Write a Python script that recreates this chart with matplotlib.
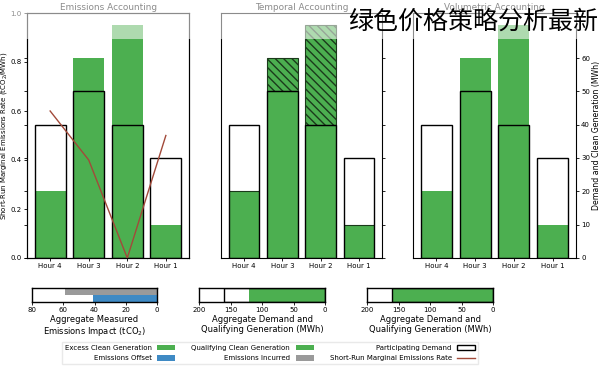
import matplotlib.pyplot as plt
from matplotlib.patches import Patch, Rectangle
from matplotlib.lines import Line2D

# data (Hour 1 .. Hour 4); the picture is a left-right mirror of the chart
hours = ["Hour 1", "Hour 2", "Hour 3", "Hour 4"]
demand = [30, 40, 50, 40]
clean_gen = [10, 70, 60, 20]
emission_rate = [0.5, 0.0, 0.4, 0.6]
mwh_ticks = [0, 10, 20, 30, 40, 50, 60]
rate_ticks = [0.0, 0.2, 0.4, 0.6, 0.8, 1.0]
agg_mwh_ticks = [0, 50, 100, 150, 200]
agg_em_ticks = [0, 20, 40, 60, 80]

qualifying = [min(d, g) for d, g in zip(demand, clean_gen)]
excess = [g - q for g, q in zip(clean_gen, qualifying)]
total_demand = sum(demand)
total_gen = sum(clean_gen)
total_qual = sum(qualifying)
em_incurred = sum(d * r for d, r in zip(demand, emission_rate))
em_offset = sum(g * r for g, r in zip(clean_gen, emission_rate))

GREEN = "#4caf50"
GRAY = "#9a9a9a"
BLUE = "#3f8ac4"
LINE = "#a24a3a"
plt.rcParams["hatch.color"] = "#1b3a1b"
plt.rcParams["hatch.linewidth"] = 1.0
plt.rcParams["axes.linewidth"] = 0.8

W, H = 600, 369
fig = plt.figure(figsize=(6, 3.69), dpi=100)


def px(x0, y0, x1, y1):
    return [x0 / W, (H - y1) / H, (x1 - x0) / W, (y1 - y0) / H]


tick_fs = 5.0
lab_fs = 6.0
x = range(len(hours))

ax_em = fig.add_axes(px(27, 13, 189, 258))
ax_tm = fig.add_axes(px(221, 13, 382, 258))
ax_vo = fig.add_axes(px(413, 13, 576, 258))

for ax, title in [(ax_em, "Emissions Accounting"), (ax_tm, "Temporal Accounting"),
                  (ax_vo, "Volumetric Accounting")]:
    if ax is ax_tm:
        ax.bar(x, qualifying, width=0.8, color=GREEN, zorder=2)
        ax.bar(x, excess, width=0.8, bottom=qualifying, facecolor=GREEN,
               edgecolor="#1b3a1b", hatch="\\\\\\\\", linewidth=0.8, zorder=2)
    else:
        ax.bar(x, clean_gen, width=0.8, color=GREEN, zorder=2)
    ax.bar(x, demand, width=0.8, facecolor="none", edgecolor="black",
           linewidth=1.0, zorder=3)
    ax.set_xlim(3.6, -0.6)
    ax.set_ylim(0, 73.5)
    ax.set_xticks(list(x))
    ax.set_xticklabels(hours, fontsize=tick_fs)
    ax.yaxis.tick_right()
    ax.set_yticks(mwh_ticks)
    ax.tick_params(length=2.5, width=0.6, pad=1.2, labelsize=tick_fs)
    ax.set_title(title, fontsize=6.4, pad=2)
    if ax is not ax_vo:
        ax.tick_params(axis="y", labelright=False)

ax_vo.yaxis.set_label_position("right")
ax_vo.set_ylabel("Demand and Clean Generation (MWh)", fontsize=5.6, labelpad=1)

# emissions rate on twin axis, mirrored to the left
ax_r = ax_em.twinx()
ax_r.plot(list(x), emission_rate, color=LINE, linewidth=1.0, zorder=4)
ax_r.set_ylim(0, 1.0)
ax_r.set_xlim(3.6, -0.6)
ax_r.yaxis.tick_left()
ax_r.yaxis.set_label_position("left")
ax_r.set_yticks(rate_ticks)
ax_r.set_yticklabels([f"{t:.1f}" for t in rate_ticks])
ax_r.tick_params(length=2.5, width=0.6, pad=1.2, labelsize=tick_fs)
ax_r.set_ylabel("Short-Run Marginal Emissions Rate (tCO$_2$/MWh)", fontsize=5.0,
                labelpad=1)

# aggregate bars
ag_em = fig.add_axes(px(32, 288, 157, 302))
ag_tm = fig.add_axes(px(199, 288, 325, 302))
ag_vo = fig.add_axes(px(367, 288, 493, 302))

ag_em.barh(1, em_incurred, height=1.0, color=GRAY)
ag_em.barh(0, em_offset, height=1.0, color=BLUE)
ag_em.set_ylim(-0.5, 1.5)
ag_em.set_xlim(80, 0)
ag_em.set_xticks(agg_em_ticks)
ag_em.set_xlabel("Aggregate Measured\nEmissions Impact (tCO$_2$)", fontsize=lab_fs,
                 labelpad=1.5, linespacing=1.1)

ag_tm.barh(0, total_qual, height=1.0, color=GREEN)
ag_tm.barh(0, total_demand, height=1.0, facecolor="none", edgecolor="black",
           linewidth=1.0)
ag_vo.barh(0, total_gen, height=1.0, color=GREEN)
ag_vo.barh(0, total_demand, height=1.0, facecolor="none", edgecolor="black",
           linewidth=1.0)
for ag in (ag_tm, ag_vo):
    ag.set_ylim(-0.5, 0.5)
    ag.set_xlim(200, 0)
    ag.set_xticks(agg_mwh_ticks)
    ag.set_xlabel("Aggregate Demand and\nQualifying Generation (MWh)",
                  fontsize=lab_fs, labelpad=1.5, linespacing=1.1)

for ag in (ag_em, ag_tm, ag_vo):
    ag.set_yticks([])
    ag.tick_params(length=2.5, width=0.6, pad=1.2, labelsize=tick_fs)
    for s in ag.spines.values():
        s.set_linewidth(1.0)

# legend (mirrored: handles after text, columns reversed)
handles = [
    Patch(facecolor=GREEN, label="Excess Clean Generation"),
    Patch(facecolor=BLUE, label="Emissions Offset"),
    Patch(facecolor=GREEN, label="Qualifying Clean Generation"),
    Patch(facecolor=GRAY, label="Emissions Incurred"),
    Patch(facecolor="white", edgecolor="black", label="Participating Demand"),
    Line2D([], [], color=LINE, linewidth=1.0, label="Short-Run Marginal Emissions Rate"),
]
fig.legend(handles=handles, ncol=3, loc="center", bbox_to_anchor=(270 / W, 16 / H),
           fontsize=5.0, markerfirst=False, frameon=True, edgecolor="#e4e4e4",
           fancybox=False, handlelength=2.6, handleheight=0.9, columnspacing=2.3,
           labelspacing=0.6, borderpad=0.4)

# faded band at the top and overlay caption
fig.patches.append(Rectangle((0, (H - 39) / H), 1, 39 / H, transform=fig.transFigure,
                             facecolor="white", alpha=0.55, edgecolor="none", zorder=10))
fig.text(598 / W, 1 - 22 / H, "绿色价格策略分析最新", ha="right", va="center",
         fontsize=18, family=["Noto Sans CJK SC", "DejaVu Sans"], zorder=11)

fig.savefig("out.png", dpi=100)
